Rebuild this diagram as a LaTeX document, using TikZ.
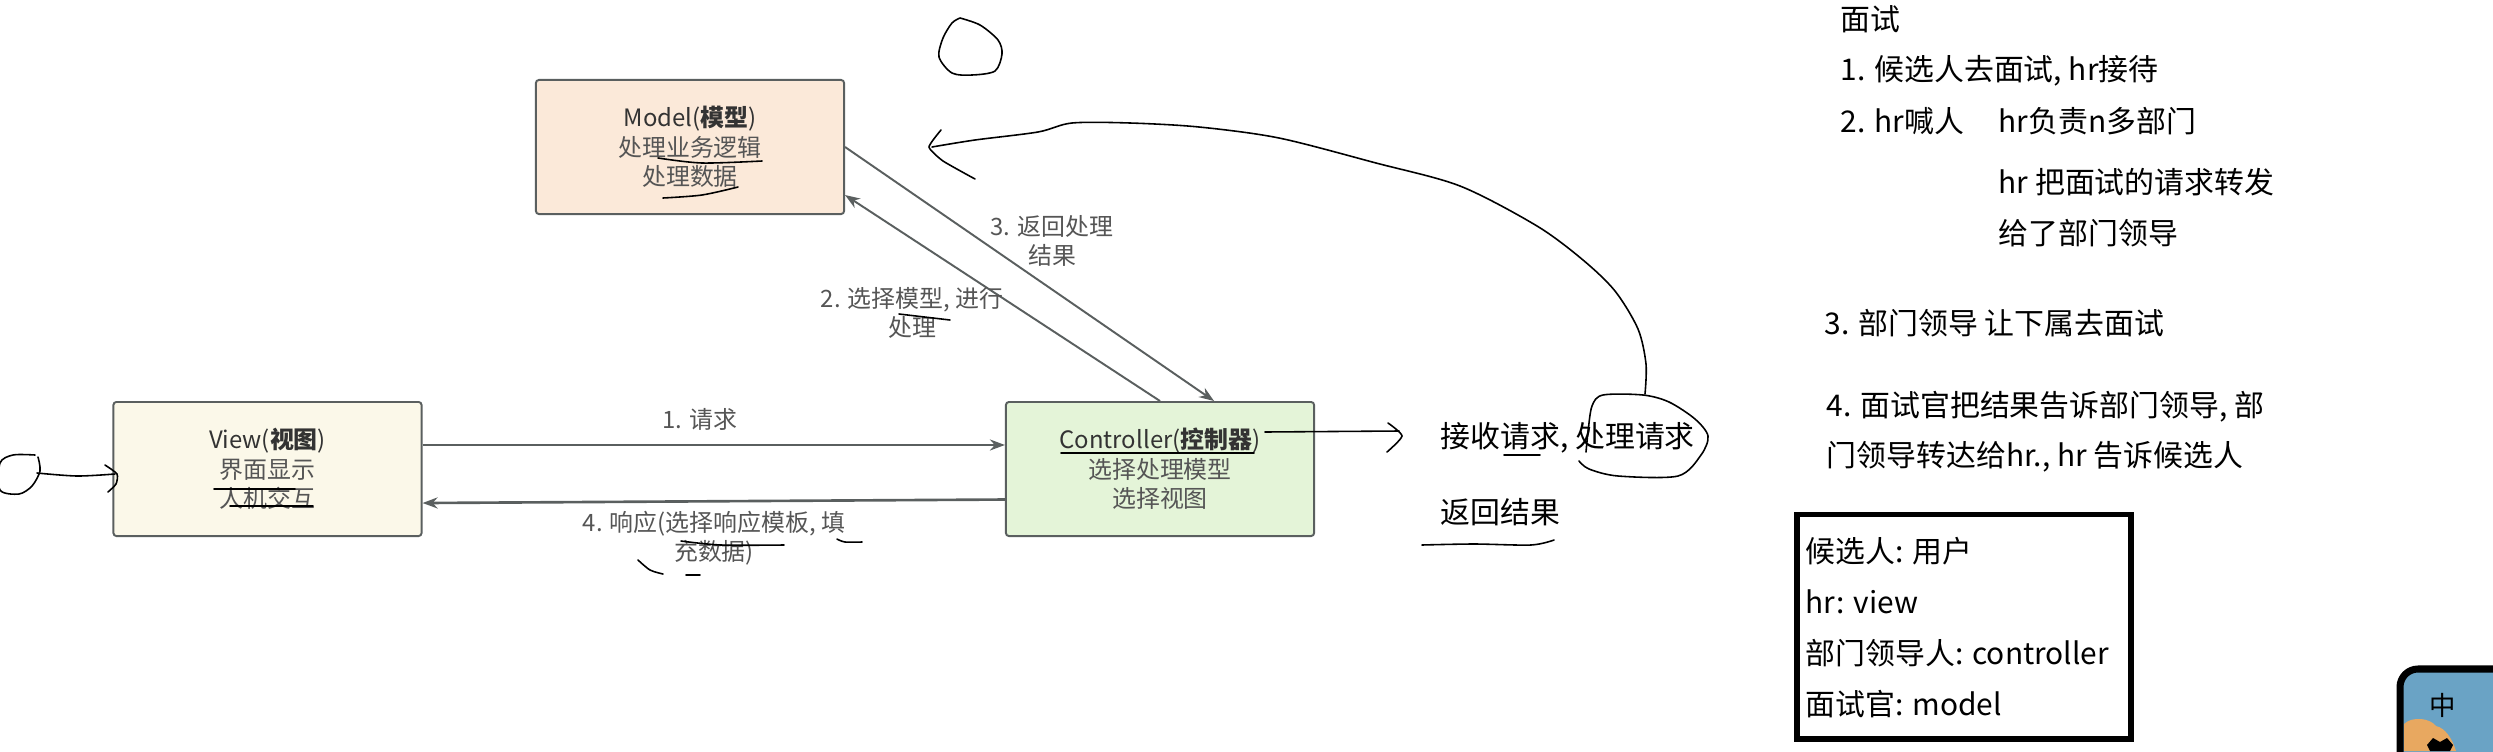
\documentclass[tikz,border=0pt]{standalone}
\usepackage{fontspec}
\setmainfont{Noto Sans CJK SC}
\usetikzlibrary{arrows.meta}
\definecolor{modelfill}{HTML}{FBE9D9}
\definecolor{viewfill}{HTML}{FBF8E9}
\definecolor{ctrlfill}{HTML}{E4F4D8}
\definecolor{boxedge}{HTML}{5A5F5F}
\definecolor{labelgray}{HTML}{555555}
\definecolor{iconsky}{HTML}{6AA3C5}
\definecolor{iconcloud}{HTML}{E8A860}
\newcommand{\boxtitle}[2]{\textcolor{black!80}{#1(\textbf{#2})}}
\tikzset{
  mvcbox/.style={draw=boxedge, line width=0.55pt, rounded corners=0.03cm, minimum width=3.08cm, minimum height=1.34cm, inner sep=0pt, align=center, text=labelgray, font=\fontsize{6.8pt}{8.4pt}\selectfont},
  flow/.style={draw=boxedge, line width=0.55pt, -{Stealth[length=0.15cm,width=0.11cm]}},
  flowlabel/.style={text=labelgray, align=center, inner sep=0pt, font=\fontsize{6.8pt}{8.4pt}\selectfont},
  note/.style={anchor=west, inner sep=0pt, font=\fontsize{8.5pt}{14.5pt}\selectfont},
  ink/.style={black, line width=0.45pt, smooth, line cap=round}
}
\begin{document}
\begin{tikzpicture}[x=0.01cm, y=-0.01cm]
\useasboundingbox (0,0) rectangle (2493,751);

\node[mvcbox, fill=modelfill] (model) at (690,147) {\boxtitle{Model}{模型}\\处理业务逻辑\\处理数据};
\node[mvcbox, fill=viewfill] (view) at (267.5,469) {\boxtitle{View}{视图}\\界面显示\\人机交互};
\node[mvcbox, fill=ctrlfill] (controller) at (1160,469) {\boxtitle{Controller}{控制器}\\选择处理模型\\选择视图};

\draw[flow, line width=0.75pt] ([yshift=0.24cm]view.east) -- ([yshift=0.24cm]controller.west);
\draw[flow, line width=0.75pt] ([yshift=-0.305cm]controller.west) -- ([yshift=-0.34cm]view.east);
\draw[flow] (controller.north) -- ([yshift=-0.48cm]model.east);
\draw[flow] (model.east) -- ([xshift=0.54cm]controller.north);

\node[flowlabel] (reqlabel) at (700,419) {1. 请求};
\node[flowlabel] (selectlabel) at (912,313) {2. 选择模型, 进行\\处理};
\node[flowlabel] (returnlabel) at (1052,241) {3. 返回处理\\结果};
\node[flowlabel] (resplabel) at (714,538) {4. 响应(选择响应模板, 填\\充数据)};

\node[note] (acceptnote) at (1440,438) {接收请求, 处理请求};
\node[note] (resultnote) at (1440,512) {返回结果};

\node[note] (step0) at (1840,19) {面试};
\node[note] (step1) at (1840,71) {1. 候选人去面试, hr接待};
\node[note] (step2) at (1840,121) {2. hr喊人};
\node[note] (step2a) at (1998,121) {hr负责n多部门};
\node[note] (step2b) at (1998,182) {hr 把面试的请求转发};
\node[note] (step2c) at (1998,233) {给了部门领导};
\node[note] (step3) at (1824,323) {3. 部门领导 让下属去面试};
\node[note] (step4) at (1826,407) {4. 面试官把结果告诉部门领导, 部};
\node[note] (step4a) at (1826,457) {门领导转达给hr., hr 告诉候选人};

\draw[line width=1.45pt] (1797,514.5) rectangle (2131,739);
\node[note] (role1) at (1805,551) {候选人: 用户};
\node[note] (role2) at (1805,602) {hr: view};
\node[note] (role3) at (1805,653) {部门领导人: controller};
\node[note] (role4) at (1805,704) {面试官: model};

% pen marks
\draw[ink] plot coordinates {(960,18) (980,25) (998,40) (1002,54) (995,71) (972,75) (952,73) (939,57) (943,38) (952,23) (960,18)};
\draw[ink] plot coordinates {(1645,394) (1646,364) (1638,329) (1615,291) (1583,260) (1537,226) (1460,186) (1376,163) (1279,138) (1199,127) (1130,123) (1072,123) (1038,132) (975,140) (932,147)};
\draw[ink] plot[tension=0.3] coordinates {(941,130) (929,147) (943,161) (975,179)};
\draw[ink] plot coordinates {(1579,461) (1589,469) (1618,476) (1678,476) (1701,455) (1708,436) (1695,419) (1669,402) (1643,395) (1603,395) (1592,406) (1588,432) (1586,452)};
\draw[ink] (1265,432) -- (1399,431);
\draw[ink] plot[tension=0.4] coordinates {(1388,423) (1402,436) (1387,452)};
\draw[ink] plot coordinates {(1422,545) (1474,544) (1531,545) (1554,540)};
\draw[ink] (1504,455) -- (1540,455);
\draw[ink] (1061,453) -- (1254,453);
\draw[ink] plot coordinates {(658,158) (702,163) (762,161)};
\draw[ink] plot coordinates {(663,198) (702,195) (738,187)};
\draw[ink] (214,489) -- (295,489);
\draw[ink] (230,506) -- (313,506);
\draw[ink] (899,314) -- (950,320);
\draw[ink] plot coordinates {(681,541) (721,545) (784,545)};
\draw[ink] plot coordinates {(837,539) (845,542) (862,542)};
\draw[ink] plot coordinates {(638,560) (650,570) (663,574)};
\draw[ink] (686,575) -- (700,575);
\draw[ink] plot coordinates {(35,455) (13,455) (0,463) (0,490) (19,494) (32,486) (40,471) (38,457)};
\draw[ink] plot coordinates {(37,473) (77,476) (115,474)};
\draw[ink] plot[tension=0.4] coordinates {(105,465) (117,474) (116,484) (108,492)};

% icon in the corner
\begin{scope}
\clip (2380,650) rectangle (2493,751);
\fill[iconsky, rounded corners=0.18cm] (2400,669) rectangle (2520,790);
\fill[iconcloud] (2404,724) .. controls (2412,716) and (2430,718) .. (2436,726) .. controls (2445,728) and (2452,738) .. (2456,751) -- (2404,751) -- cycle;
\draw[line width=2pt, rounded corners=0.18cm] (2400,669) rectangle (2520,790);
\fill[black] (2427,745) -- (2433,738) -- (2440,742) -- (2447,738) -- (2453,745) -- (2450,751) -- (2430,751) -- cycle;
\node[font=\fontsize{7.5pt}{8pt}\selectfont, inner sep=0pt] (iconchar) at (2443,705) {中};
\end{scope}
\end{tikzpicture}
\end{document}
